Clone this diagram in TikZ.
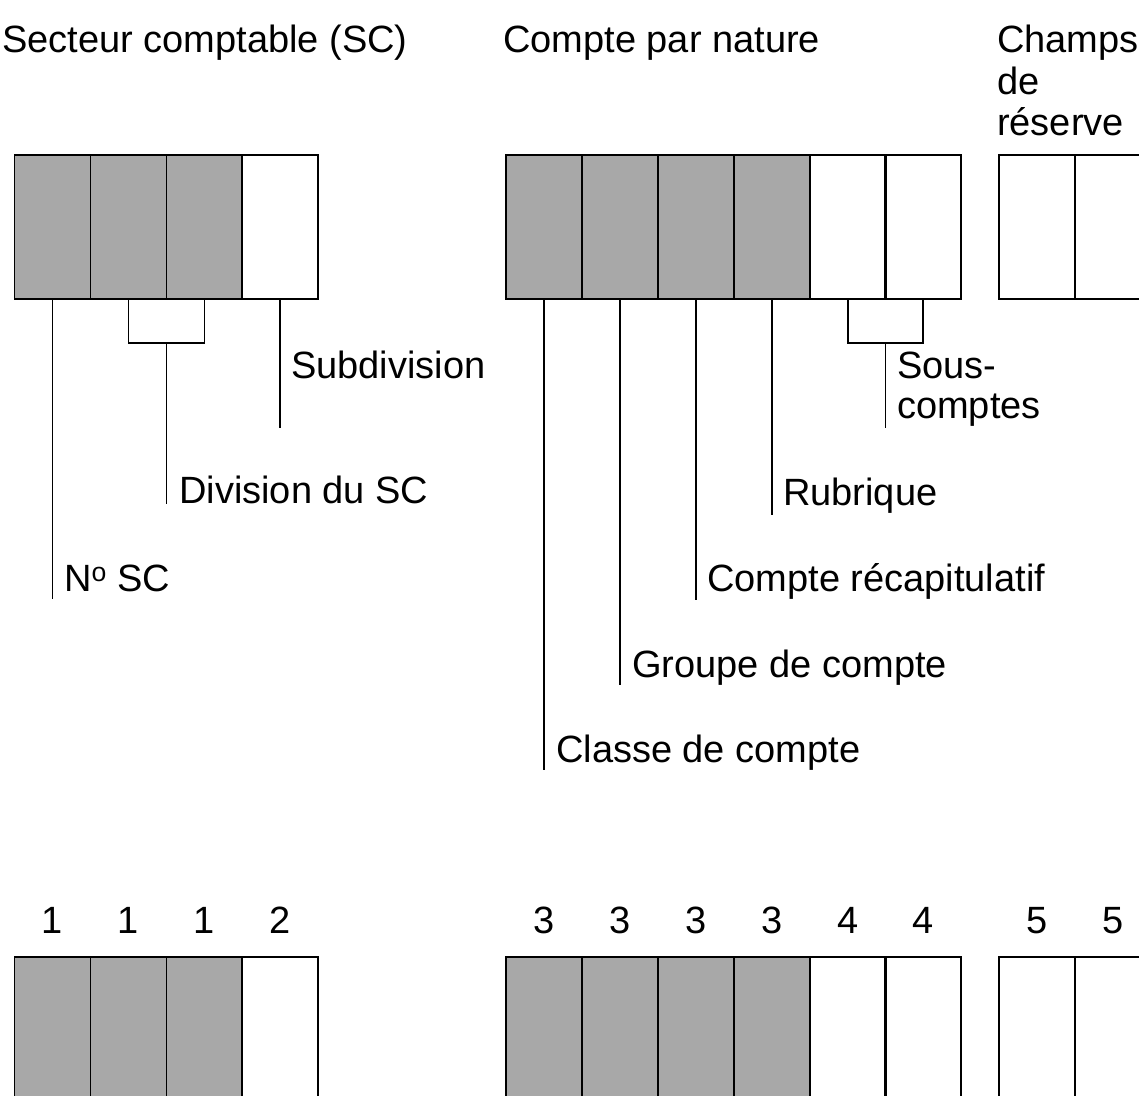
\documentclass[tikz,border=0pt]{standalone}
\usepackage{fontspec}
\setmainfont{Liberation Sans}
\definecolor{cellgray}{RGB}{168,168,168}
\begin{document}
\begin{tikzpicture}[x=1pt,y=-1pt,
  cell/.style={draw=black,line width=1.4pt,minimum width=76pt,minimum height=144pt,inner sep=0pt,outer sep=0pt},
  gcell/.style={cell,fill=cellgray},
  bcell/.style={draw=black,line width=1.4pt,minimum width=76pt,minimum height=220pt,inner sep=0pt,outer sep=0pt},
  gbcell/.style={bcell,fill=cellgray},
  conn/.style={draw=black,line width=1.2pt},
  lbl/.style={anchor=base west,inner sep=0pt,font=\fontsize{38}{41.5}\selectfont},
  num/.style={anchor=base,inner sep=0pt,font=\fontsize{38}{41.5}\selectfont}]
\useasboundingbox (0,0) rectangle (1139,1095);
\clip (0,0) rectangle (1139,1095);
% titles
\node[lbl] (t1) at (2,52) {Secteur comptable (SC)};
\node[lbl] (t2) at (503,52) {Compte par nature};
\node[lbl] (t3a) at (997,52) {Champs};
\node[lbl] (t3b) at (997,94) {de};
\node[lbl] (t3c) at (997,135) {réserve};
% top cells
\node[gcell] (a1) at (52.3,227) {};
\node[gcell] (a2) at (128.3,227) {};
\node[gcell] (a3) at (204.3,227) {};
\node[cell] (a4) at (280,227) {};
\node[gcell] (m1) at (544,227) {};
\node[gcell] (m2) at (620,227) {};
\node[gcell] (m3) at (696,227) {};
\node[gcell] (m4) at (772,227) {};
\node[cell] (m5) at (848,227) {};
\node[cell] (m6) at (923,227) {};
\node[cell] (r1) at (1037,227) {};
\node[cell] (r2) at (1113,227) {};
% connector end points
\coordinate (e1) at (52.3,599);
\coordinate (bl1) at (128.3,343);
\coordinate (br1) at (204.3,343);
\coordinate (bm1) at (166.3,343);
\coordinate (e2) at (166.3,504);
\coordinate (e4) at (280,428);
\coordinate (f1) at (544,770);
\coordinate (f2) at (620,685);
\coordinate (f3) at (696,600);
\coordinate (f4) at (772,515);
\coordinate (bl2) at (848,343);
\coordinate (br2) at (923,343);
\coordinate (bm2) at (885.5,343);
\coordinate (f5) at (885.5,428);
% connectors
\draw[conn] (a1.south) -- (e1);
\draw[conn] (a2.south) -- (bl1) -- (br1) -- (a3.south);
\draw[conn] (bm1) -- (e2);
\draw[conn] (a4.south) -- (e4);
\draw[conn] (m1.south) -- (f1);
\draw[conn] (m2.south) -- (f2);
\draw[conn] (m3.south) -- (f3);
\draw[conn] (m4.south) -- (f4);
\draw[conn] (m5.south) -- (bl2) -- (br2) -- (m6.south);
\draw[conn] (bm2) -- (f5);
% labels
\node[lbl] (l1) at (64,591) {N\textsuperscript{o} SC};
\node[lbl] (l2) at (179,503) {Division du SC};
\node[lbl] (l3) at (291,378) {Subdivision};
\node[lbl] (k1) at (556,762) {Classe de compte};
\node[lbl] (k2) at (632,677) {Groupe de compte};
\node[lbl] (k3) at (707,591) {Compte récapitulatif};
\node[lbl] (k4) at (783,505) {Rubrique};
\node[lbl] (k5a) at (897,378) {Sous-};
\node[lbl] (k5b) at (897,418) {comptes};
% numbers
\node[num] (n1) at (52.3,933) {1};
\node[num] (n2) at (128.3,933) {1};
\node[num] (n3) at (204.3,933) {1};
\node[num] (n4) at (280,933) {2};
\node[num] (n5) at (544,933) {3};
\node[num] (n6) at (620,933) {3};
\node[num] (n7) at (696,933) {3};
\node[num] (n8) at (772,933) {3};
\node[num] (n9) at (848,933) {4};
\node[num] (n10) at (923,933) {4};
\node[num] (n11) at (1037,933) {5};
\node[num] (n12) at (1113,933) {5};
% bottom cells
\node[gbcell] (b1) at (52.3,1067) {};
\node[gbcell] (b2) at (128.3,1067) {};
\node[gbcell] (b3) at (204.3,1067) {};
\node[bcell] (b4) at (280,1067) {};
\node[gbcell] (c1) at (544,1067) {};
\node[gbcell] (c2) at (620,1067) {};
\node[gbcell] (c3) at (696,1067) {};
\node[gbcell] (c4) at (772,1067) {};
\node[bcell] (c5) at (848,1067) {};
\node[bcell] (c6) at (923,1067) {};
\node[bcell] (d1) at (1037,1067) {};
\node[bcell] (d2) at (1113,1067) {};
\end{tikzpicture}
\end{document}
